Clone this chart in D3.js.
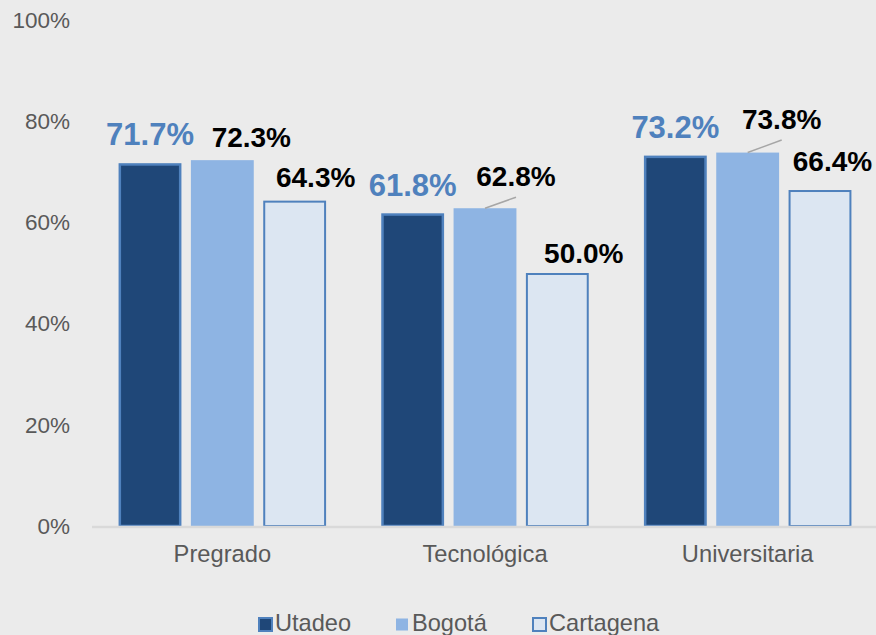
<!DOCTYPE html>
<html>
<head>
<meta charset="utf-8">
<script src="https://cdn.jsdelivr.net/npm/d3@7"></script>
<style>
  html, body { margin: 0; padding: 0; background: #ebebeb; }
  svg { display: block; font-family: "Liberation Sans", Arial, sans-serif; }
</style>
</head>
<body>
<svg id="chart" width="876" height="635"></svg>
<script>
// ---- data ----
const categories = ["Pregrado", "Tecnológica", "Universitaria"];
const seriesNames = ["Utadeo", "Bogotá", "Cartagena"];
const utadeo = [71.7, 61.8, 73.2];
const bogota = [72.3, 62.8, 73.8];
const cartagena = [64.3, 50.0, 66.4];
const yTicks = [0, 20, 40, 60, 80, 100];

// ---- layout / style (not data) ----
const W = 876, H = 635;
const plot = { left: 91, right: 879, top: 20, bottom: 526 };
const fills = ["#1f4778", "#8eb4e3", "#dce6f2"];
const strokes = ["#4f81bd", "#8eb4e3", "#4f81bd"];
const strokeW = [2.5, 0, 2];
const labelColors = ["#4f81bd", "#000000", "#000000"];
const labelSizes = [31, 28, 28];
// label offsets [series][category] from bar centre (dx) and bar top (dy to baseline)
const labelDx = [[0, 0, 0], [29, 31, 34], [21, 26.5, 12.5]];
const labelDy = [[-18, -17, -17.5], [-13, -22, -23.5], [-14, -10, -19]];
const leader = [[false, false, false], [false, true, true], [false, false, false]];

const values = [utadeo, bogota, cartagena];

const svg = d3.select("#chart");
svg.append("rect").attr("width", W).attr("height", H).attr("fill", "#ebebeb");

const x0 = d3.scaleBand().domain(categories).range([plot.left, plot.right])
  .paddingInner(0.21).paddingOuter(0.105);
const x1 = d3.scaleBand().domain(seriesNames).range([0, x0.bandwidth()])
  .paddingInner(0.131).paddingOuter(0);
const y = d3.scaleLinear().domain([0, 100]).range([plot.bottom, plot.top]);

// y axis labels
const yAxis = svg.append("g").attr("transform", `translate(${plot.left},0)`)
  .call(d3.axisLeft(y).tickValues(yTicks).tickSize(0).tickPadding(21)
    .tickFormat(d => d + "%"));
yAxis.select(".domain").remove();
yAxis.selectAll("text").attr("fill", "#595959").style("font-size", "22.5px")
  .style("font-family", "'Liberation Sans', Arial, sans-serif");

// bars
seriesNames.forEach((s, si) => {
  const g = svg.append("g");
  categories.forEach((c, ci) => {
    const v = values[si][ci];
    const bx = x0(c) + x1(s);
    const bw = x1.bandwidth();
    const sw = strokeW[si];
    g.append("rect")
      .attr("x", bx + sw / 2)
      .attr("y", y(v) + sw / 2)
      .attr("width", bw - sw)
      .attr("height", y(0) - y(v) - sw / 2)
      .attr("fill", fills[si])
      .attr("stroke", sw > 0 ? strokes[si] : "none")
      .attr("stroke-width", sw);
  });
});

// baseline
svg.append("line").attr("x1", 92).attr("x2", W).attr("y1", plot.bottom + 1).attr("y2", plot.bottom + 1)
  .attr("stroke", "#d9d9d9").attr("stroke-width", 2.7);

// category axis
const xAxis = svg.append("g").attr("transform", `translate(0,${plot.bottom})`)
  .call(d3.axisBottom(x0).tickSize(0).tickPadding(19));
xAxis.select(".domain").remove();
xAxis.selectAll("text").attr("fill", "#595959").style("font-size", "23.7px")
  .style("font-family", "'Liberation Sans', Arial, sans-serif");

// data labels
seriesNames.forEach((s, si) => {
  categories.forEach((c, ci) => {
    const v = values[si][ci];
    const cx = x0(c) + x1(s) + x1.bandwidth() / 2;
    const top = y(v);
    const lx = cx + labelDx[si][ci];
    const ly = top + labelDy[si][ci];
    if (leader[si][ci]) {
      svg.append("line")
        .attr("x1", cx).attr("y1", top)
        .attr("x2", lx).attr("y2", ly + 11)
        .attr("stroke", "#a6a6a6").attr("stroke-width", 1.5);
    }
    svg.append("text")
      .attr("x", lx).attr("y", ly)
      .attr("text-anchor", "middle")
      .attr("fill", labelColors[si])
      .style("font-size", labelSizes[si] + "px")
      .style("font-weight", "bold")
      .text(v.toFixed(1) + "%");
  });
});

// legend
const legendX = [258, 395, 532];
seriesNames.forEach((s, si) => {
  const g = svg.append("g").attr("transform", `translate(${legendX[si]},617)`);
  const sw = strokeW[si];
  if (sw > 0) {
    g.append("rect").attr("x", 1).attr("y", 1).attr("width", 13).attr("height", 13)
      .attr("fill", fills[si]).attr("stroke", strokes[si]).attr("stroke-width", 2);
  } else {
    g.append("rect").attr("x", 1).attr("y", 1.5).attr("width", 12).attr("height", 12)
      .attr("fill", fills[si]);
  }
  g.append("text").attr("x", 17).attr("y", 13.5)
    .attr("fill", "#595959").style("font-size", "23.6px").text(s);
});
</script>
</body>
</html>
